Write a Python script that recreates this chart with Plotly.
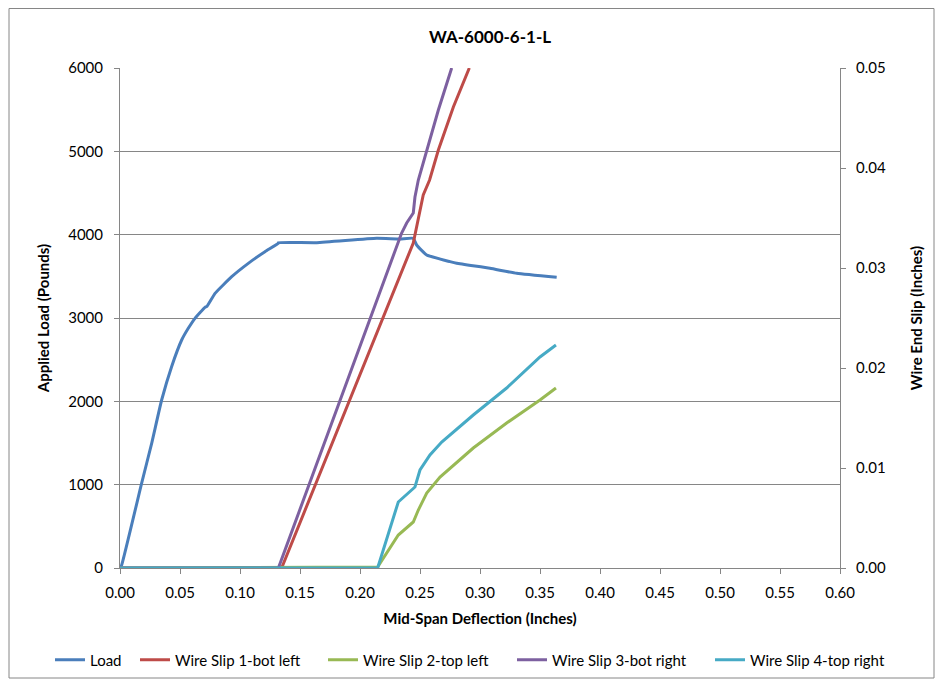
import plotly.graph_objects as go

# load vs mid-span deflection
load_x = [0.0, 0.0014, 0.018, 0.0264, 0.0347, 0.043, 0.0514, 0.0569, 0.0625, 0.0708, 0.0725,
          0.0792, 0.0931, 0.1069, 0.1208, 0.1319, 0.132, 0.164, 0.2139, 0.2333, 0.2444,
          0.2472, 0.2556, 0.275, 0.2806, 0.3083, 0.3306, 0.3639]
load_y = [0, 36, 1016, 1496, 2016, 2416, 2736, 2876, 2996, 3128, 3140,
          3296, 3496, 3656, 3796, 3896, 3904, 3904, 3956, 3948, 3956,
          3876, 3756, 3676, 3656, 3596, 3536, 3488]

# wire end slip (right axis)
ws1_x = [0.0, 0.1347, 0.2444, 0.247, 0.2527, 0.258, 0.2653, 0.2778, 0.2911]
ws1_y = [0.0, 0.0, 0.0325, 0.034, 0.0373, 0.0388, 0.0418, 0.0461, 0.05]

ws2_x = [0.0, 0.2147, 0.2319, 0.2444, 0.2486, 0.2556, 0.2667, 0.2944, 0.3222, 0.35, 0.3633]
ws2_y = [0.0, 0.0001, 0.0033, 0.0046, 0.0058, 0.0075, 0.0091, 0.012, 0.0145, 0.0168, 0.018]

ws3_x = [0.0, 0.132, 0.2347, 0.2389, 0.2444, 0.2458, 0.2486, 0.2556, 0.2653, 0.2764]
ws3_y = [0.0, 0.0, 0.0335, 0.0345, 0.0355, 0.0371, 0.0388, 0.0418, 0.0458, 0.05]

ws4_x = [0.0, 0.2147, 0.2319, 0.2458, 0.25, 0.2583, 0.2681, 0.2944, 0.3222, 0.35, 0.3633]
ws4_y = [0.0, 0.0, 0.0066, 0.0081, 0.0098, 0.0113, 0.0126, 0.0153, 0.018, 0.0211, 0.0223]

x_ticks = [round(i * 0.05, 2) for i in range(13)]

FONT = "Lato, Liberation Sans, sans-serif"
L, R, T, B = 112, 95, 60, 111   # page has an 8px body margin
W, H = 927, 671
PW, PH = W - L - R, H - T - B

# legend line starts (px, page coords) -> one legend per series
leg_starts = [55, 140, 328, 517, 715]

def px_x(p):
    return (p - 8 - L) / PW

def px_y(p):
    return (T + PH - (p - 8)) / PH

series = [
    (load_x, load_y, "Load", "#4A7EBB", "y"),
    (ws1_x, ws1_y, "Wire Slip 1-bot left", "#BE4B48", "y2"),
    (ws2_x, ws2_y, "Wire Slip 2-top left", "#98B954", "y2"),
    (ws3_x, ws3_y, "Wire Slip 3-bot right", "#7D60A0", "y2"),
    (ws4_x, ws4_y, "Wire Slip 4-top right", "#46AAC5", "y2"),
]

fig = go.Figure()
legends = {}
for i, (xs, ys, nm, col, ax) in enumerate(series):
    lg = "legend" if i == 0 else f"legend{i + 1}"
    line = dict(color=col, width=3)
    if i == 0:
        line.update(shape="spline", smoothing=0.4)
    fig.add_trace(go.Scatter(x=xs, y=ys, mode="lines", name=nm, yaxis=ax, legend=lg,
                             showlegend=True, line=line))
    legends[lg] = dict(orientation="h", x=px_x(leg_starts[i] - 5), xanchor="left",
                       y=px_y(660), yanchor="middle", bgcolor="rgba(0,0,0,0)",
                       font=dict(family=FONT, size=15, color="black"), itemwidth=30)

axis_common = dict(showline=True, linecolor="#868686", linewidth=1, automargin=False,
                   ticks="outside", ticklen=5, tickcolor="#868686",
                   tickfont=dict(family=FONT, size=15, color="black"), zeroline=False)

fig.update_layout(
    width=W, height=H,
    margin=dict(l=L, r=R, t=T, b=B, autoexpand=False),
    showlegend=True,
    paper_bgcolor="white", plot_bgcolor="white",
    title=dict(text="<b>WA-6000-6-1-L</b>", x=482 / W, xanchor="center",
               y=1 - 29 / H, yanchor="middle",
               font=dict(family=FONT, size=17, color="black")),
    xaxis=dict(range=[0, 0.6], tickvals=x_ticks, tickformat=".2f", showgrid=False,
               ticklabelstandoff=6,
               title=dict(text="<b>Mid-Span Deflection (Inches)</b>", standoff=13,
                          font=dict(family=FONT, size=15, color="black")),
               **axis_common),
    yaxis=dict(range=[0, 6000], dtick=1000, showgrid=True, gridcolor="#868686", gridwidth=1,
               ticklabelstandoff=8,
               title=dict(text="<b>Applied Load (Pounds)</b>", standoff=14,
                          font=dict(family=FONT, size=15, color="black")),
               **axis_common),
    yaxis2=dict(range=[0, 0.05], dtick=0.01, tickformat=".2f", overlaying="y", side="right",
                showgrid=False, ticklabelstandoff=7,
                title=dict(text="<b>Wire End Slip (Inches)</b>", standoff=26,
                           font=dict(family=FONT, size=15, color="black")),
                **axis_common),
    shapes=[dict(type="rect", xref="paper", yref="paper",
                 x0=(1 - L) / PW, x1=(W - 1 - L) / PW,
                 y0=(T + PH - (H - 1)) / PH, y1=(T + PH - 0.5) / PH,
                 line=dict(color="#868686", width=1), layer="below")],
    **legends,
)

fig.write_html("out.html")
